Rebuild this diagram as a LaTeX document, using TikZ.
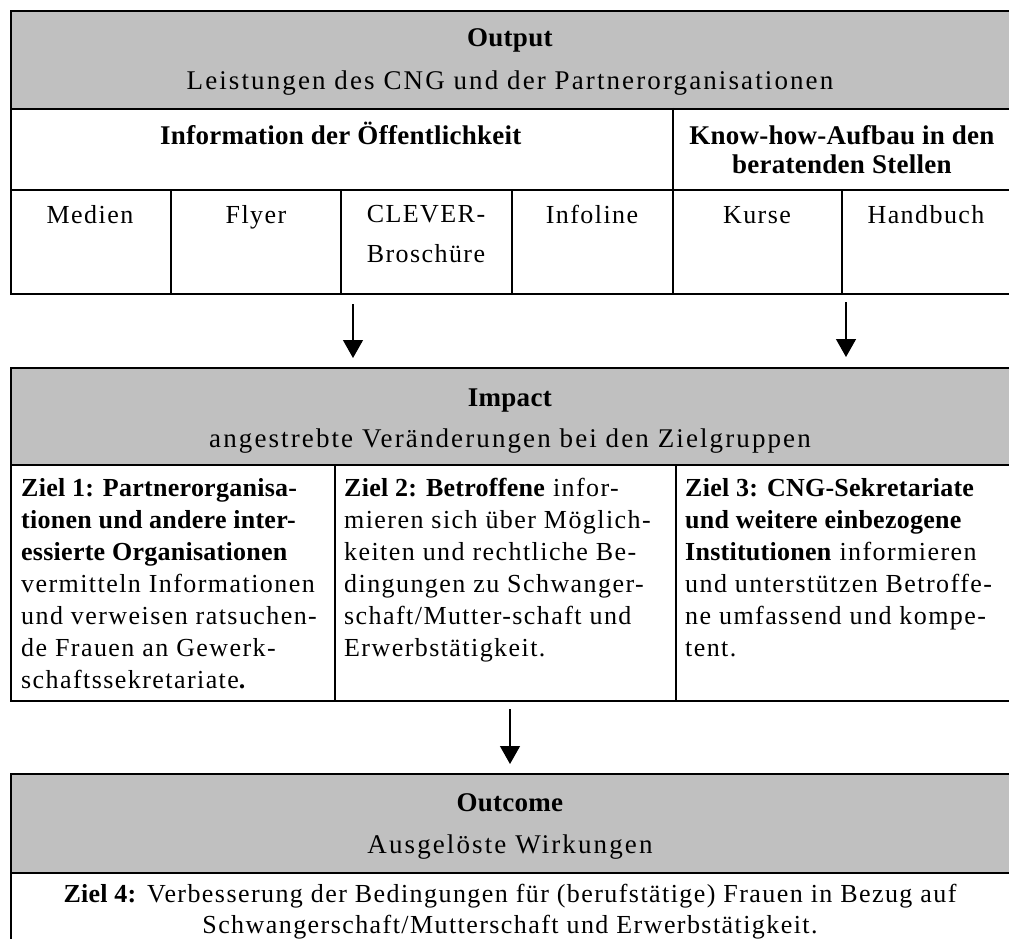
\documentclass[tikz,border=0pt]{standalone}
\usepackage{fontspec}
\setmainfont{Liberation Serif}[LetterSpace=5.5, BoldFeatures={LetterSpace=1}]
\newfontfamily\headfont{Liberation Serif}[LetterSpace=7.8, BoldFeatures={LetterSpace=1}]
\usetikzlibrary{arrows.meta, positioning}

\definecolor{bandgray}{RGB}{192,192,192}

\tikzset{
  box/.style={draw, line width=2.3pt, inner sep=0pt, anchor=north west},
  band/.style={box, fill=bandgray},
  rule/.style={line width=1.8pt},
  headtxt/.style={inner sep=0pt, anchor=base, align=center, font=\headfont\fontsize{27}{29}\selectfont},
  celltxt/.style={inner sep=0pt, anchor=base, align=center, font=\fontsize{26}{40}\selectfont},
  zieltxt/.style={inner sep=0pt, anchor=north west, align=left, font=\fontsize{26}{32}\selectfont},
  arr/.style={-{Triangle[width=20pt, length=18pt]}, line width=1.3pt},
}

\begin{document}
\begin{tikzpicture}[x=1pt, y=-1pt]
  \clip (0,0) rectangle (1009,939);
  \fill[white] (0,0) rectangle (1009,939);

  % Output
  \node[box, minimum width=1005pt, minimum height=283pt] (outbox) at (10,10) {};
  \node[band, minimum width=1005pt, minimum height=98pt] (outband) at (10,10) {};
  \draw[rule] (10,190) -- (1015,190);
  \draw[rule] (673,108) -- (673,293);
  \foreach \x in {171,341,512,842}
    \draw[rule] (\x,190) -- (\x,293);
  \node[headtxt] (outtitle) at (510,47) {\textbf{Output}};
  \node[headtxt] (outsub) at (510,90) {Leistungen des CNG und der Partnerorganisationen};
  \node[headtxt] (info) at (341,144) {\textbf{Information der Öffentlichkeit}};
  \node[headtxt, anchor=north] (knowhow) at (842,125) {\textbf{Know-how-Aufbau in den}\\\textbf{beratenden Stellen}};
  \node[celltxt] (medien) at (90,223) {Medien};
  \node[celltxt] (flyer) at (256,223) {Flyer};
  \node[celltxt, anchor=north] (clever) at (426,205.5) {CLEVER-\\Broschüre};
  \node[celltxt] (infoline) at (592,223) {Infoline};
  \node[celltxt] (kurse) at (757,223) {Kurse};
  \node[celltxt] (handbuch) at (926,223) {Handbuch};

  % Impact
  \node[box, minimum width=1005pt, minimum height=333pt] (impbox) at (10,367) {};
  \node[band, minimum width=1005pt, minimum height=97pt] (impband) at (10,367) {};
  \foreach \x in {335,676}
    \draw[rule] (\x,464) -- (\x,700);
  \node[headtxt] (imptitle) at (510,406) {\textbf{Impact}};
  \node[headtxt] (impsub) at (510,447) {angestrebte Veränderungen bei den Zielgruppen};
  \node[zieltxt] (ziel1) at (21,478) {\textbf{Ziel 1: Partnerorganisa-}\\
    \textbf{tionen und andere inter-}\\
    \textbf{essierte Organisationen}\\
    vermitteln Informationen\\
    und verweisen ratsuchen-\\
    de Frauen an Gewerk-\\
    schaftssekretariate\textbf{.}};
  \node[zieltxt] (ziel2) at (344,478) {\textbf{Ziel 2: Betroffene} infor-\\
    mieren sich über Möglich-\\
    keiten und rechtliche Be-\\
    dingungen zu Schwanger-\\
    schaft/Mutter-schaft und\\
    Erwerbstätigkeit.};
  \node[zieltxt] (ziel3) at (685,478) {\textbf{Ziel 3: CNG-Sekretariate}\\
    \textbf{und weitere einbezogene}\\
    \textbf{Institutionen} informieren\\
    und unterstützen Betroffe-\\
    ne umfassend und kompe-\\
    tent.};

  % Outcome
  \node[box, minimum width=1005pt, minimum height=200pt] (outcbox) at (10,773) {};
  \node[band, minimum width=1005pt, minimum height=99pt] (outcband) at (10,773) {};
  \node[headtxt] (outctitle) at (510,811) {\textbf{Outcome}};
  \node[headtxt] (outcsub) at (510,853) {Ausgelöste Wirkungen};
  \node[zieltxt, anchor=north, align=center, font=\fontsize{26}{31}\selectfont] (ziel4) at (510,884)
    {\textbf{Ziel 4:} Verbesserung der Bedingungen für (berufstätige) Frauen in Bezug auf\\
     Schwangerschaft/Mutterschaft und Erwerbstätigkeit.};

  % arrows
  \draw[arr] ([xshift=343pt, yshift=-9pt]outbox.south west) -- ([xshift=343pt, yshift=9pt]impbox.north west);
  \draw[arr] ([xshift=836pt, yshift=-7pt]outbox.south west) -- ([xshift=836pt, yshift=10pt]impbox.north west);
  \draw[arr] ([xshift=500pt, yshift=-7pt]impbox.south west) -- ([xshift=500pt, yshift=9pt]outcbox.north west);
\end{tikzpicture}
\end{document}
